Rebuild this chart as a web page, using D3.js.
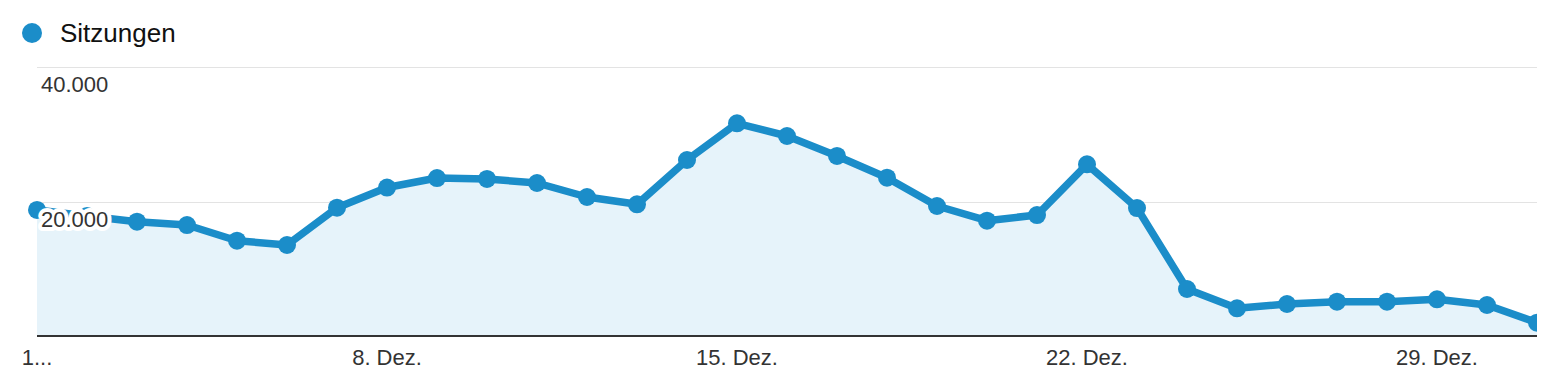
<!DOCTYPE html>
<html><head><meta charset="utf-8">
<script src="https://cdn.jsdelivr.net/npm/d3@7"></script>
<style>
html,body{margin:0;padding:0;background:#fff;}
text{font-family:"Liberation Sans",Arial,Helvetica,sans-serif;}
</style></head>
<body>
<svg id="chart" width="1560" height="378"></svg>
<script>
const days = d3.range(1, 32);
const sessions = [18740, 17840, 17000, 16500, 14170, 13530, 19080, 22080, 23490, 23350,
  22750, 20670, 19580, 26170, 31630, 29740, 26770, 23540, 19330, 17150,
  17990, 25530, 19030, 6990, 4120, 4760, 5100, 5100, 5460, 4610, 1980];
const yTicks = [20000, 40000];
const yTickLabels = ["20.000", "40.000"];
const xTicks = [1, 8, 15, 22, 29];
const xTickLabels = ["1...", "8. Dez.", "15. Dez.", "22. Dez.", "29. Dez."];
const seriesName = "Sitzungen";

const color = "#1b8dc9";
const svg = d3.select("#chart");
const x = d3.scaleLinear().domain([1, 31]).range([37, 1537]);
const y = d3.scaleLinear().domain([0, 40000]).range([336, 67]);
const data = days.map((d, i) => ({d, v: sessions[i]}));

svg.append("defs").append("clipPath").attr("id", "clip")
  .append("rect").attr("x", 0).attr("y", 0).attr("width", 1537).attr("height", 378);

// gridlines
svg.append("g").selectAll("line").data(yTicks).join("line")
  .attr("x1", 37).attr("x2", 1537)
  .attr("y1", d => Math.round(y(d)) + 0.5).attr("y2", d => Math.round(y(d)) + 0.5)
  .attr("stroke", "#e3e3e3").attr("stroke-width", 1);

const g = svg.append("g").attr("clip-path", "url(#clip)");
g.append("path").datum(data)
  .attr("d", d3.area().x(p => x(p.d)).y0(y(0)).y1(p => y(p.v)))
  .attr("fill", "#e6f3fa");
g.append("path").datum(data)
  .attr("d", d3.line().x(p => x(p.d)).y(p => y(p.v)))
  .attr("fill", "none").attr("stroke", color).attr("stroke-width", 7.5)
  .attr("stroke-linejoin", "round");
g.selectAll("circle").data(data).join("circle")
  .attr("cx", p => x(p.d)).attr("cy", p => y(p.v)).attr("r", 9)
  .attr("fill", color);

// baseline axis
svg.append("line").attr("x1", 37).attr("x2", 1537)
  .attr("y1", y(0)).attr("y2", y(0))
  .attr("stroke", "#333").attr("stroke-width", 2);

// y labels with white halo
svg.append("g").selectAll("text").data(yTicks).join("text")
  .attr("x", 41).attr("y", d => y(d) + 25)
  .attr("font-size", 22).attr("fill", "#333")
  .attr("stroke", "#fff").attr("stroke-width", 8).attr("stroke-linejoin", "round")
  .attr("paint-order", "stroke")
  .text((d, i) => yTickLabels[i]);

// x labels
svg.append("g").selectAll("text").data(xTicks).join("text")
  .attr("x", d => x(d)).attr("y", 365).attr("text-anchor", "middle")
  .attr("font-size", 22).attr("fill", "#333")
  .text((d, i) => xTickLabels[i]);

// legend
svg.append("circle").attr("cx", 32).attr("cy", 33).attr("r", 10).attr("fill", color);
svg.append("text").attr("x", 60).attr("y", 42).attr("font-size", 26)
  .attr("fill", "#111").text(seriesName);
</script>
</body></html>
